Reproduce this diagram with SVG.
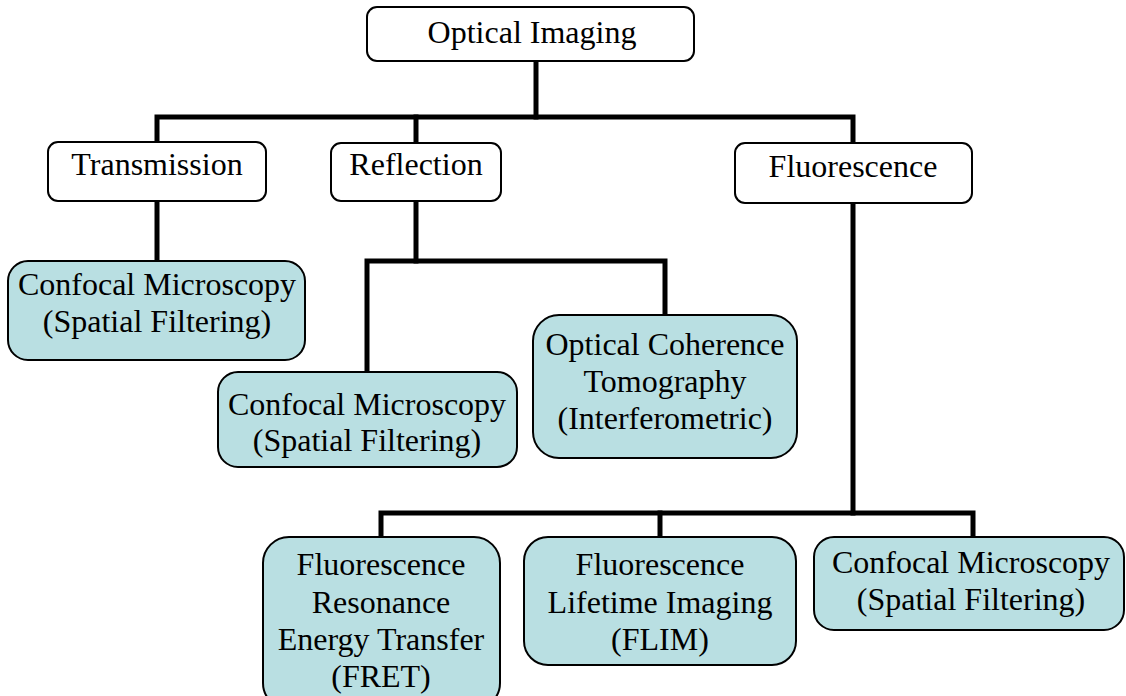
<svg xmlns="http://www.w3.org/2000/svg" width="1126" height="696" viewBox="0 0 1126 696">
  <style>
    .box { fill: #ffffff; stroke: #000000; stroke-width: 2; }
    .leaf { fill: #b9dfe2; stroke: #000000; stroke-width: 2; }
    .lbl { font-family: "Liberation Serif", "Times New Roman", serif; font-size: 32px; fill: #000000; text-anchor: middle; }
    .wire { fill: none; stroke: #000000; stroke-width: 5; stroke-linejoin: miter; stroke-linecap: square; }
  </style>
  <rect width="1126" height="696" fill="#ffffff"/>

  <!-- tree connectors -->
  <g id="connectors">
    <path class="wire" d="M536,61 V117"/>
    <path class="wire" d="M157,142 V117 H853 V143"/>
    <path class="wire" d="M416,117 V143"/>
    <path class="wire" d="M157,201 V261"/>
    <path class="wire" d="M416,201 V261"/>
    <path class="wire" d="M367,372 V261 H665 V315"/>
    <path class="wire" d="M853,203 V513"/>
    <path class="wire" d="M381,537 V513 H973 V537"/>
    <path class="wire" d="M660,513 V537"/>
  </g>

  <g id="optical-imaging">
    <rect class="box" x="367" y="7" width="327" height="54" rx="10"/>
    <text class="lbl" x="532" y="43">Optical Imaging</text>
  </g>

  <g id="transmission">
    <rect class="box" x="48" y="142" width="218" height="59" rx="10"/>
    <text class="lbl" x="157" y="175">Transmission</text>
  </g>

  <g id="reflection">
    <rect class="box" x="331" y="143" width="170" height="58" rx="10"/>
    <text class="lbl" x="416" y="175">Reflection</text>
  </g>

  <g id="fluorescence">
    <rect class="box" x="735" y="143" width="237" height="60" rx="10"/>
    <text class="lbl" x="853" y="177">Fluorescence</text>
  </g>

  <g id="transmission-confocal">
    <rect class="leaf" x="8" y="261" width="297" height="99" rx="20"/>
    <text class="lbl" x="157" y="295">Confocal Microscopy</text>
    <text class="lbl" x="157" y="332">(Spatial Filtering)</text>
  </g>

  <g id="reflection-confocal">
    <rect class="leaf" x="218" y="372" width="299" height="95" rx="20"/>
    <text class="lbl" x="367" y="415">Confocal Microscopy</text>
    <text class="lbl" x="367" y="451">(Spatial Filtering)</text>
  </g>

  <g id="oct">
    <rect class="leaf" x="533" y="315" width="264" height="143" rx="26"/>
    <text class="lbl" x="665" y="355">Optical Coherence</text>
    <text class="lbl" x="665" y="392">Tomography</text>
    <text class="lbl" x="665" y="429">(Interferometric)</text>
  </g>

  <g id="fret">
    <rect class="leaf" x="263" y="537" width="237" height="172" rx="26"/>
    <text class="lbl" x="381" y="575">Fluorescence</text>
    <text class="lbl" x="381" y="613">Resonance</text>
    <text class="lbl" x="381" y="650">Energy Transfer</text>
    <text class="lbl" x="381" y="687">(FRET)</text>
  </g>

  <g id="flim">
    <rect class="leaf" x="524" y="537" width="272" height="128" rx="24"/>
    <text class="lbl" x="660" y="575">Fluorescence</text>
    <text class="lbl" x="660" y="613">Lifetime Imaging</text>
    <text class="lbl" x="660" y="650">(FLIM)</text>
  </g>

  <g id="fluorescence-confocal">
    <rect class="leaf" x="814" y="537" width="310" height="93" rx="20"/>
    <text class="lbl" x="971" y="573">Confocal Microscopy</text>
    <text class="lbl" x="971" y="610">(Spatial Filtering)</text>
  </g>
</svg>
